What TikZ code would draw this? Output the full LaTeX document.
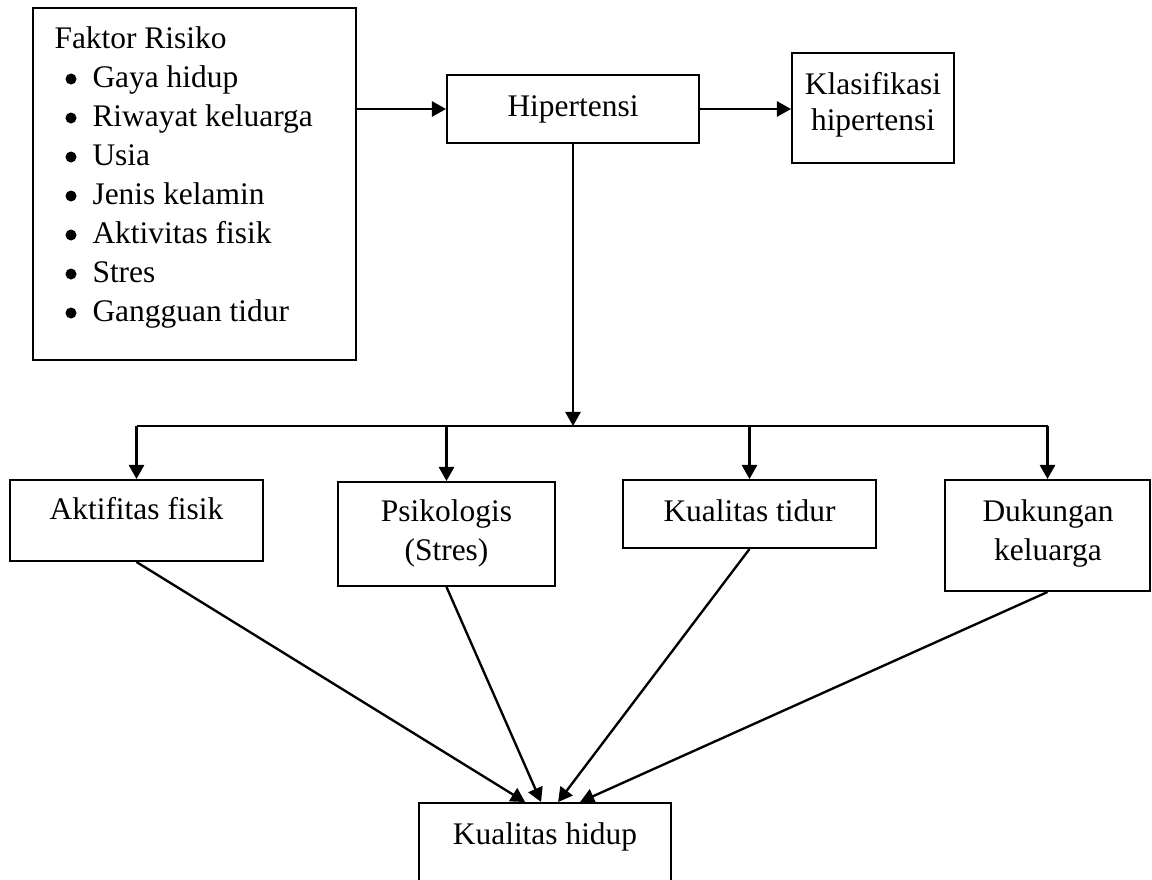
\documentclass[tikz,border=0pt]{standalone}
\usepackage{fontspec}
\setmainfont{Liberation Serif}
\usetikzlibrary{arrows.meta,fit}

\begin{document}
\begin{tikzpicture}[x=0.3817pt, y=-0.3817pt,
    box/.style={draw, line width=0.75pt, inner sep=0pt},
    lbl/.style={inner sep=0pt, align=center, font=\fontsize{12}{14.9}\selectfont},
    bullet/.style={circle, fill, inner sep=0pt, minimum size=4.2pt},
    arr/.style={line width=0.9pt, -{Triangle[length=5.4pt, width=5.8pt]}}]
    \path[use as bounding box, clip] (0,0) rectangle (1152,879);

    % boxes
    \node[box, fit={(33,8) (356,360)}] (faktor) {};
    \node[box, fit={(447,75) (699,143)}] (hiper) {};
    \node[box, fit={(792,53) (954,163)}] (klas) {};
    \node[box, fit={(10,480) (263,561)}] (aktif) {};
    \node[box, fit={(338,482) (555,586)}] (psiko) {};
    \node[box, fit={(623,480) (876,548)}] (tidur) {};
    \node[box, fit={(945,480) (1150,591)}] (dukung) {};
    \node[box, fit={(419,803) (671,900)}] (hidup) {};

    % texts
    \node[lbl, anchor=base west] (faktortitle) at (54,48) {Faktor Risiko};
    \foreach \t [count=\i] in {Gaya hidup, Riwayat keluarga, Usia, Jenis kelamin,
        Aktivitas fisik, Stres, Gangguan tidur} {
      \node[bullet] (dot\i) at (71, 40+39*\i) {};
      \node[lbl, anchor=base west] (item\i) at (92, 48+39*\i) {\t};
    }
    \node[lbl, anchor=base] (hipertxt) at (573,116) {Hipertensi};
    \node[lbl, anchor=north, font=\fontsize{12}{13.8}\selectfont] (klastxt) at (873,72)
      {Klasifikasi\\hipertensi};
    \node[lbl, anchor=base] (aktiftxt) at (136.5,519) {Aktifitas fisik};
    \node[lbl, anchor=north] (psikotxt) at (446.5,499) {Psikologis\\(Stres)};
    \node[lbl, anchor=base] (tidurtxt) at (749.5,521) {Kualitas tidur};
    \node[lbl, anchor=north] (dukungtxt) at (1048,499) {Dukungan\\keluarga};
    \node[lbl, anchor=base] (hiduptxt) at (545,844) {Kualitas hidup};

    % arrows
    \coordinate (split) at (573,426);
    \draw[arr] (faktor.east |- hiper.west) -- (hiper.west);
    \draw[arr] (hiper.east) -- (klas.west |- hiper.east);
    \draw[arr] (hiper.south) -- (split);
    \draw[line width=0.9pt] (split -| aktif.north) -- (split -| dukung.north);
    \foreach \b in {aktif, psiko, tidur, dukung} {
      \draw[arr] (split -| \b.north) -- (\b.north);
    }
    \draw[arr] (aktif.south) -- ([xshift=-7.6pt]hidup.north);
    \draw[arr] (psiko.south) -- ([xshift=-1.5pt]hidup.north);
    \draw[arr] (tidur.south) -- ([xshift=5pt]hidup.north);
    \draw[arr] (dukung.south) -- ([xshift=13.4pt]hidup.north);
  \end{tikzpicture}
\end{document}
